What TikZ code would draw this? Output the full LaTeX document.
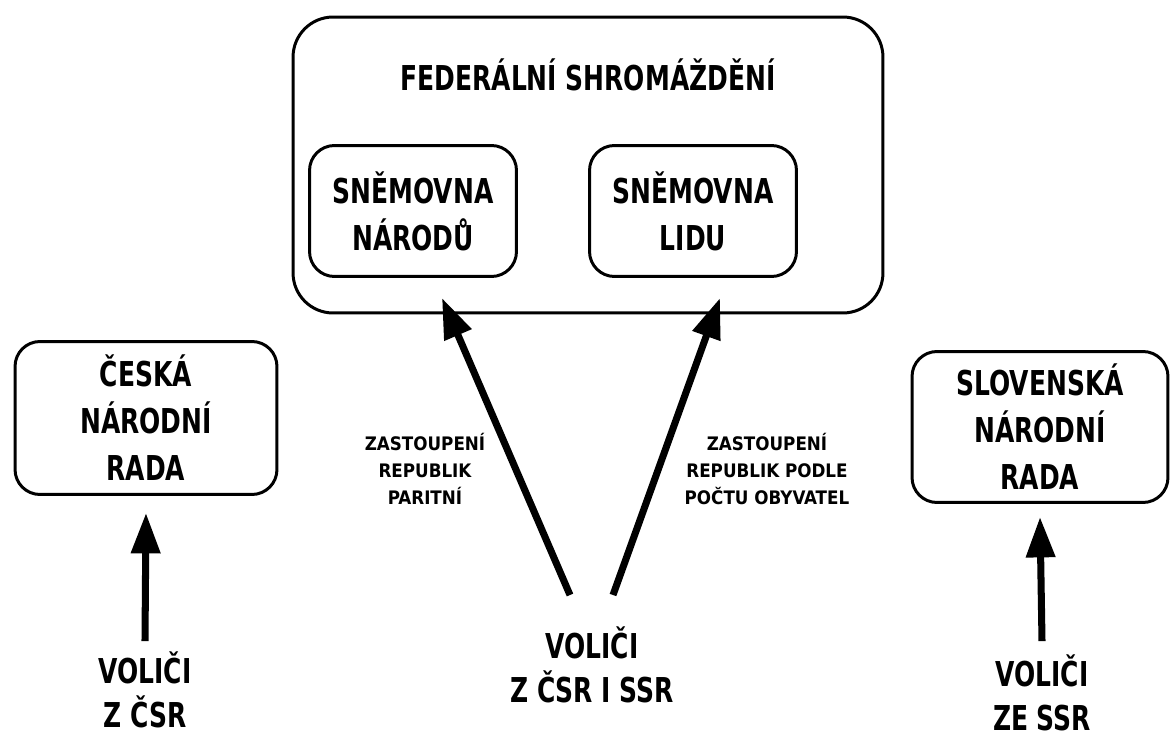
\documentclass[tikz,border=0pt]{standalone}
\usepackage{fontspec}
\newfontfamily\diafont[FakeStretch=0.81]{DejaVu Sans Condensed Bold}
\newfontfamily\notefont{DejaVu Sans Condensed Bold}
\usepackage{tikz}
\usetikzlibrary{arrows.meta,positioning}

\tikzset{
  bigtext/.style={font=\diafont\fontsize{19.5}{26.7}\selectfont, align=center},
  votertext/.style={font=\diafont\fontsize{19.5}{25}\selectfont, align=center, inner sep=0pt},
  smalltext/.style={font=\notefont\fontsize{10.6}{15.3}\selectfont, align=center},
  box/.style={draw, line width=1.7pt, rounded corners=0.5cm, inner sep=0pt},
  vote/.style={line width=4pt, -{Triangle[length=23pt,width=16pt]}}
}

\begin{document}
\begin{tikzpicture}[x=0.02cm,y=-0.02cm]
\useasboundingbox (0,0) rectangle (1170,733);

% federal assembly
\node[box, rounded corners=0.8cm, minimum width=11.8cm, minimum height=5.92cm] (fs) at (588,165) {};
\node[bigtext] (fstitle) at (588,75) {FEDERÁLNÍ SHROMÁŽDĚNÍ};
\node[box, bigtext, minimum width=4.14cm, minimum height=2.62cm] (sn) at (413,211) {SNĚMOVNA\\NÁRODŮ};
\node[box, bigtext, minimum width=4.14cm, minimum height=2.62cm] (sl) at (693,211) {SNĚMOVNA\\LIDU};

% national councils
\node[box, bigtext, minimum width=5.24cm, minimum height=3.06cm] (cnr) at (146,418) {ČESKÁ\\NÁRODNÍ\\RADA};
\node[box, bigtext, minimum width=5.12cm, minimum height=3.02cm] (snr) at (1040,427) {SLOVENSKÁ\\NÁRODNÍ\\RADA};

% voters
\node[votertext] (vcsr) at (145,690) {VOLIČI\\Z ČSR};
\node[votertext] (vboth) at (592,664.5) {VOLIČI\\Z ČSR I SSR};
\node[votertext] (vssr) at (1042,693) {VOLIČI\\ZE SSR};

\node[smalltext] (lparit) at (425,469) {ZASTOUPENÍ\\REPUBLIK\\PARITNÍ};
\node[smalltext] (lpodle) at (767,469) {ZASTOUPENÍ\\REPUBLIK PODLE\\POČTU OBYVATEL};

\coordinate (tailL) at (570,595);
\coordinate (tipL) at (442,298);
\coordinate (tailR) at (613,595);
\coordinate (tipR) at (720,298);

\draw[vote] (tailL) -- (tipL);
\draw[vote] (tailR) -- (tipR);
\draw[vote] ([yshift=0.21cm]vcsr.north) -- ([yshift=-0.34cm]cnr.south);
\draw[vote] ([yshift=0.27cm]vssr.north) -- ([yshift=-0.26cm]snr.south);
\end{tikzpicture}
\end{document}
